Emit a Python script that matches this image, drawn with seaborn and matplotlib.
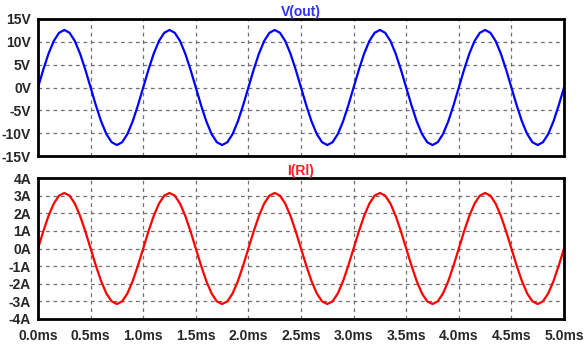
import numpy as np
import pandas as pd
import seaborn as sns
import matplotlib
matplotlib.use("Agg")
import matplotlib.pyplot as plt

# Time axis in milliseconds, sampled every 0.05 ms
time_ms = [round(0.05 * i, 2) for i in range(101)]

# Output voltage V(out), volts
v_out = [
    0.0, 3.89, 7.41, 10.19, 11.98, 12.6, 11.98, 10.19, 7.41, 3.89,
    0.0, -3.89, -7.41, -10.19, -11.98, -12.6, -11.98, -10.19, -7.41, -3.89,
    0.0, 3.89, 7.41, 10.19, 11.98, 12.6, 11.98, 10.19, 7.41, 3.89,
    0.0, -3.89, -7.41, -10.19, -11.98, -12.6, -11.98, -10.19, -7.41, -3.89,
    0.0, 3.89, 7.41, 10.19, 11.98, 12.6, 11.98, 10.19, 7.41, 3.89,
    0.0, -3.89, -7.41, -10.19, -11.98, -12.6, -11.98, -10.19, -7.41, -3.89,
    0.0, 3.89, 7.41, 10.19, 11.98, 12.6, 11.98, 10.19, 7.41, 3.89,
    0.0, -3.89, -7.41, -10.19, -11.98, -12.6, -11.98, -10.19, -7.41, -3.89,
    0.0, 3.89, 7.41, 10.19, 11.98, 12.6, 11.98, 10.19, 7.41, 3.89,
    0.0, -3.89, -7.41, -10.19, -11.98, -12.6, -11.98, -10.19, -7.41, -3.89,
    0.0,
]

# Load current I(Rl), amperes
i_rl = [
    0.0, 0.97, 1.85, 2.55, 3.00, 3.15, 3.00, 2.55, 1.85, 0.97,
    0.0, -0.97, -1.85, -2.55, -3.00, -3.15, -3.00, -2.55, -1.85, -0.97,
    0.0, 0.97, 1.85, 2.55, 3.00, 3.15, 3.00, 2.55, 1.85, 0.97,
    0.0, -0.97, -1.85, -2.55, -3.00, -3.15, -3.00, -2.55, -1.85, -0.97,
    0.0, 0.97, 1.85, 2.55, 3.00, 3.15, 3.00, 2.55, 1.85, 0.97,
    0.0, -0.97, -1.85, -2.55, -3.00, -3.15, -3.00, -2.55, -1.85, -0.97,
    0.0, 0.97, 1.85, 2.55, 3.00, 3.15, 3.00, 2.55, 1.85, 0.97,
    0.0, -0.97, -1.85, -2.55, -3.00, -3.15, -3.00, -2.55, -1.85, -0.97,
    0.0, 0.97, 1.85, 2.55, 3.00, 3.15, 3.00, 2.55, 1.85, 0.97,
    0.0, -0.97, -1.85, -2.55, -3.00, -3.15, -3.00, -2.55, -1.85, -0.97,
    0.0,
]

x_ticks = [0.0, 0.5, 1.0, 1.5, 2.0, 2.5, 3.0, 3.5, 4.0, 4.5, 5.0]
x_tick_labels = [f"{t:.1f}ms" for t in x_ticks]
v_ticks = [15, 10, 5, 0, -5, -10, -15]
v_tick_labels = [f"{v}V" for v in v_ticks]
i_ticks = [4, 3, 2, 1, 0, -1, -2, -3, -4]
i_tick_labels = [f"{a}A" for a in i_ticks]

sns.set_style("white")
plt.rcParams["font.family"] = ["Liberation Sans", "DejaVu Sans"]
plt.rcParams["font.weight"] = "bold"

df = pd.DataFrame({"t": time_ms, "v": v_out, "i": i_rl})

fig = plt.figure(figsize=(5.86, 3.48), dpi=100)
ax_v = fig.add_axes([38 / 586, 1 - 156 / 348, (564 - 38) / 586, (156 - 19) / 348])
ax_i = fig.add_axes([38 / 586, 1 - 319 / 348, (564 - 38) / 586, (319 - 178) / 348])

sns.lineplot(data=df, x="t", y="v", ax=ax_v, color="#0000ff", linewidth=1.6)
sns.lineplot(data=df, x="t", y="i", ax=ax_i, color="#ff0000", linewidth=1.6)


def style_axis(ax, yticks, ylabels, title, tcolor, show_x):
    ax.set_xlim(0, 5)
    ax.set_ylim(yticks[-1], yticks[0])
    ax.set_xticks(x_ticks)
    ax.set_yticks(yticks)
    ax.set_yticklabels(ylabels, fontsize=10, fontweight="bold")
    ax.set_xlabel("")
    ax.set_ylabel("")
    ax.grid(True, color="#707070", linestyle=(0, (3, 3)), linewidth=0.9)
    for s in ax.spines.values():
        s.set_visible(True)
        s.set_color("black")
        s.set_linewidth(2.0)
    ax.tick_params(axis="y", direction="out", length=4, width=1.6, color="black",
                   pad=1, labelsize=10)
    if show_x:
        ax.set_xticklabels(x_tick_labels, fontsize=10, fontweight="bold")
        ax.tick_params(axis="x", direction="out", length=5, width=1.6,
                       color="black", pad=2, labelsize=10)
    else:
        ax.set_xticklabels([])
        ax.tick_params(axis="x", length=0)
    ax.set_title(title, color=tcolor, fontsize=10, fontweight="bold", pad=2)


style_axis(ax_v, v_ticks, v_tick_labels, "V(out)", "#3030ff", False)
style_axis(ax_i, i_ticks, i_tick_labels, "I(Rl)", "#ff2020", True)

fig.savefig("out.png", dpi=100)
